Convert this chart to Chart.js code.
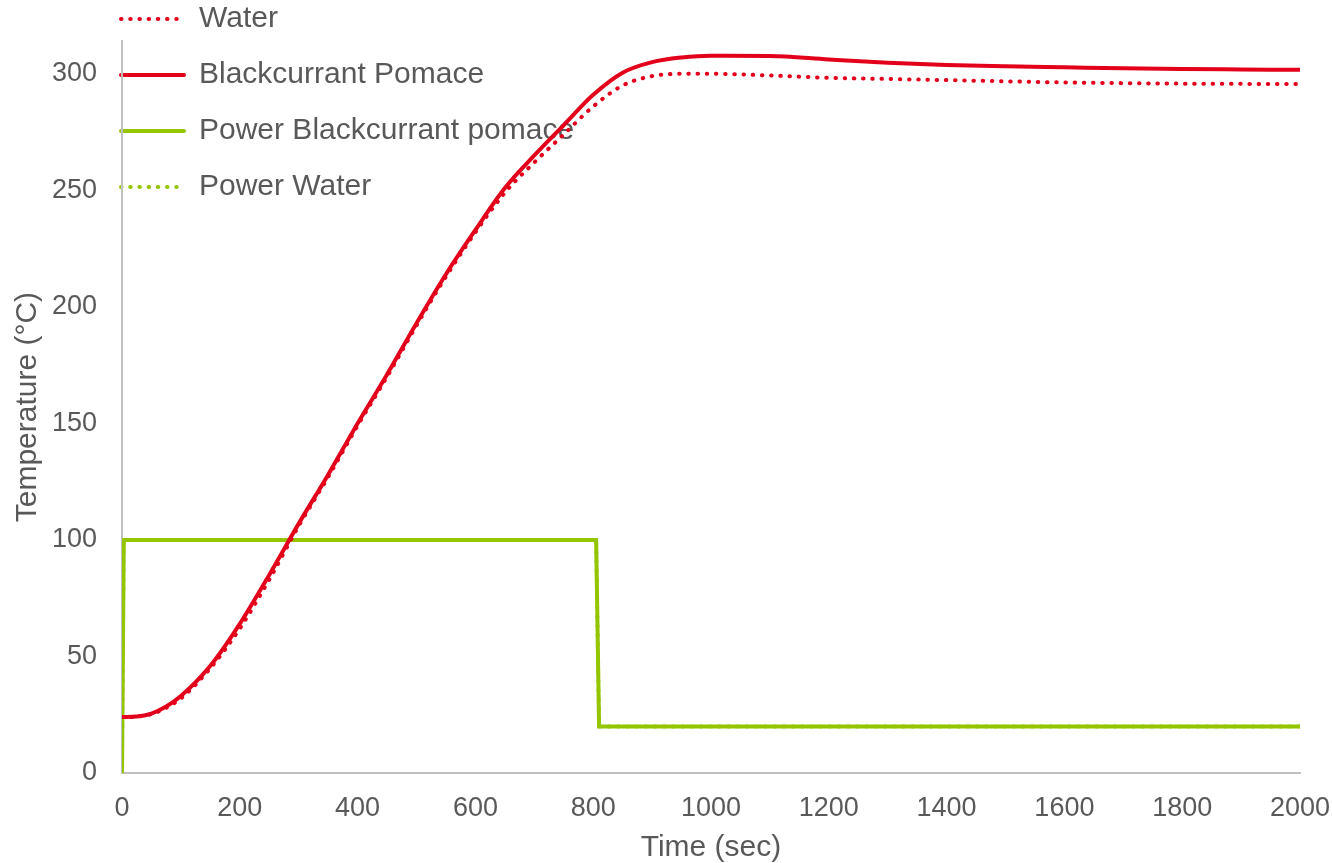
<!DOCTYPE html>
<html>
<head>
<meta charset="utf-8">
<script src="https://cdn.jsdelivr.net/npm/chart.js@4/dist/chart.umd.min.js"></script>
<style>
  html, body { margin: 0; padding: 0; background: #fff; }
  #wrap { width: 1332px; height: 863px; }
</style>
</head>
<body>
<div id="wrap"><canvas id="grafico" width="1332" height="863"></canvas></div>
<script>
// tempo (s) e temperaturas
const tempo = [0, 25, 50, 75, 100, 150, 200, 250, 300, 350, 400, 450, 500, 550, 600, 650, 700, 750, 800, 850, 900, 950, 1000, 1100, 1200, 1300, 1400, 1500, 1600, 1700, 1800, 1900, 2000];
const tempBagaco = [24, 24.2, 25.5, 28.5, 33, 46, 64, 85, 107, 128, 150, 171, 193, 214, 233, 251, 265, 278, 291, 300.5, 305, 307, 307.8, 307.7, 306.2, 304.8, 303.8, 303.2, 302.8, 302.4, 302.1, 301.9, 301.7];
const tempAgua = [24, 24.2, 25.3, 28, 32, 45, 62, 83, 106, 127, 149, 170, 192, 213, 232, 249, 262, 274, 286, 295, 299, 300, 300, 299.3, 298.3, 297.8, 297.3, 296.8, 296.3, 296, 295.8, 295.7, 295.6];

// potência (%)
const tempoPotencia = [0, 3, 805, 810, 2000];
const potenciaBagaco = [0, 100, 100, 20, 20];
const potenciaAgua = [0, 100, 100, 20, 20];

const yTicks = [0, 50, 100, 150, 200, 250, 300];

const VERMELHO = "#e3001b";
const VERDE = "#93c500";
const CINZA = "#595959";

function pontos(xs, ys) {
    return xs.map((x, i) => ({ x: x, y: ys[i] }));
}

// Move a legenda para o canto superior esquerdo, por cima da área do gráfico
const legendaPosicao = {
    id: "legendaPosicao",
    afterLayout(chart) {
        if (chart.legend) {
            chart.legend.left = 95;
            chart.legend.top = -22;
        }
    }
};

// Legenda com o mesmo traço (pontilhado ou contínuo) de cada série
function gerarLegenda(chart) {
    const itens = Chart.defaults.plugins.legend.labels.generateLabels(chart);
    itens.forEach((item, i) => {
        const ds = chart.data.datasets[i];
        item.lineDash = ds.borderDash || [];
        item.lineWidth = ds.borderWidth;
        item.lineCap = ds.borderCapStyle;
        item.strokeStyle = ds.borderColor;
    });
    return itens;
}

const fonte = "'Liberation Sans', Arial, sans-serif";

new Chart(document.getElementById("grafico").getContext("2d"), {
    type: "line",
    data: {
        datasets: [
            {
                label: "Water",
                data: pontos(tempo, tempAgua),
                borderColor: VERMELHO,
                backgroundColor: VERMELHO,
                borderWidth: 4,
                borderDash: [0.5, 8.7],
                borderCapStyle: "round",
                pointRadius: 0,
                cubicInterpolationMode: "monotone"
            },
            {
                label: "Blackcurrant Pomace",
                data: pontos(tempo, tempBagaco),
                borderColor: VERMELHO,
                backgroundColor: VERMELHO,
                borderWidth: 4,
                borderCapStyle: "round",
                pointRadius: 0,
                cubicInterpolationMode: "monotone"
            },
            {
                label: "Power Blackcurrant pomace",
                data: pontos(tempoPotencia, potenciaBagaco),
                borderColor: VERDE,
                backgroundColor: VERDE,
                borderWidth: 4,
                borderCapStyle: "round",
                pointRadius: 0,
                tension: 0
            },
            {
                label: "Power Water",
                data: pontos(tempoPotencia, potenciaAgua),
                borderColor: VERDE,
                backgroundColor: VERDE,
                borderWidth: 4,
                borderDash: [0.5, 8.7],
                borderCapStyle: "round",
                pointRadius: 0,
                tension: 0
            }
        ]
    },
    options: {
        responsive: false,
        animation: false,
        layout: { padding: { left: 0, right: 32, top: 40, bottom: 0 } },
        plugins: {
            legend: {
                position: "chartArea",
                align: "start",
                labels: {
                    usePointStyle: true,
                    pointStyle: "line",
                    pointStyleWidth: 63,
                    padding: 26,
                    color: CINZA,
                    font: { family: fonte, size: 30 },
                    generateLabels: gerarLegenda
                }
            },
            tooltip: { enabled: false }
        },
        scales: {
            x: {
                type: "linear",
                min: 0,
                max: 2000,
                afterFit(scale) {
                    scale.height = 90;
                    scale.paddingLeft = 0;
                    scale.paddingRight = 0;
                },
                grid: { display: false, drawTicks: false },
                border: { display: true, color: "#c0c0c0", width: 2 },
                ticks: {
                    stepSize: 200,
                    padding: 19,
                    maxRotation: 0,
                    color: CINZA,
                    font: { family: fonte, size: 27 },
                    callback: v => String(v)
                },
                title: {
                    display: true,
                    text: "Time (sec)",
                    color: CINZA,
                    padding: { top: 0, bottom: 0 },
                    font: { family: fonte, size: 30, lineHeight: 1.0 }
                }
            },
            y: {
                min: 0,
                max: 314,
                afterFit(scale) { scale.width = 122; },
                afterBuildTicks(scale) {
                    scale.ticks = yTicks.map(v => ({ value: v }));
                },
                grid: { display: false, drawTicks: false },
                border: { display: true, color: "#c0c0c0", width: 2 },
                ticks: {
                    padding: 25,
                    color: CINZA,
                    font: { family: fonte, size: 27 },
                    callback: v => String(v)
                },
                title: {
                    display: true,
                    text: "Temperature (°C)",
                    color: CINZA,
                    padding: { top: 10, bottom: 0 },
                    font: { family: fonte, size: 30, lineHeight: 1.2 }
                }
            }
        }
    },
    plugins: [legendaPosicao]
});
</script>
</body>
</html>
